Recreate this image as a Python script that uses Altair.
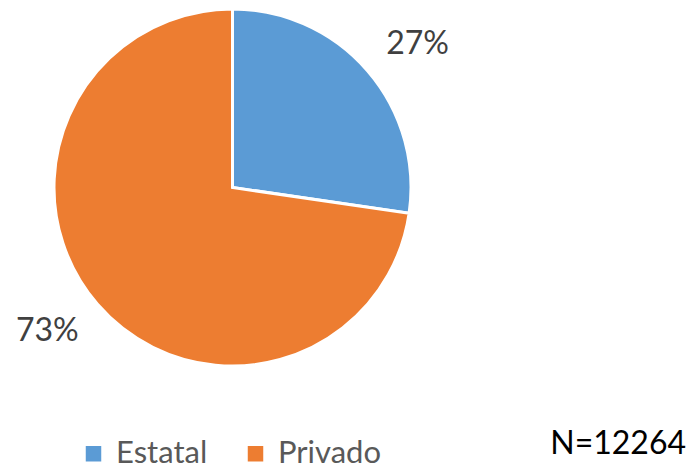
import altair as alt
import pandas as pd

categories = ["Estatal", "Privado"]
values = [27.3, 72.7]
labels = ["27%", "73%"]
colors = ["#5B9BD5", "#ED7D31"]
note = "N=12264"

df = pd.DataFrame({"cat": categories, "val": values, "lab": labels, "ord": [0, 1]})

FONT = "Lato"
CX, CY = 224.5, 179.5

base = alt.Chart(df).encode(
    theta=alt.Theta("val:Q", stack=True),
    order=alt.Order("ord:Q"),
)

arc = base.mark_arc(outerRadius=178.5, stroke="white", strokeWidth=3).encode(
    x=alt.value(CX),
    y=alt.value(CY),
    color=alt.Color(
        "cat:N",
        scale=alt.Scale(domain=categories, range=colors),
        legend=alt.Legend(
            title=None,
            orient="none",
            direction="horizontal",
            legendX=70,
            legendY=430,
            symbolType="square",
            symbolSize=240,
            symbolStrokeWidth=0,
            labelFont=FONT,
            labelFontSize=31,
            labelColor="#595959",
            labelOffset=7,
            columnPadding=32,
            padding=0,
        ),
    ),
)

text = base.mark_text(radius=234, thetaOffset=0.055, font=FONT, fontSize=32, color="#404040").encode(
    x=alt.value(CX),
    y=alt.value(CY),
    text="lab:N",
)

ndf = pd.DataFrame({"t": [note]})
ntext = alt.Chart(ndf).mark_text(
    font=FONT, fontSize=32, color="#000000", align="right", baseline="alphabetic"
).encode(x=alt.value(678), y=alt.value(446), text="t:N")

chart = alt.layer(arc, text, ntext).properties(
    width=679, height=464, autosize=alt.AutoSizeParams(type="none"), padding=0
).configure_view(stroke=None)

chart.save("out.html", embed_options={"renderer": "svg", "actions": False})
